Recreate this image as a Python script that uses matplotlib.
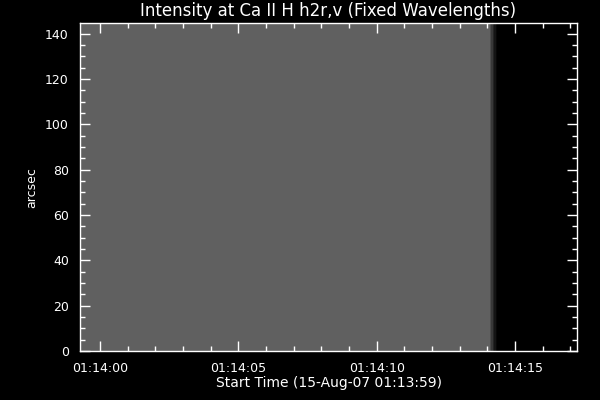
import numpy as np
import matplotlib
matplotlib.use("Agg")
import matplotlib.pyplot as plt

# data (time in seconds from 01:14:00, position in arcsec)
time_edges = [-0.72, 14.10, 14.15, 14.20, 14.25, 14.30, 14.35]
pos_edges = [0.0, 144.5]
intensity = [[0.376, 0.30, 0.22, 0.14, 0.08, 0.03]]
x_ticks = [0, 5, 10, 15]
x_labels = ["01:14:00", "01:14:05", "01:14:10", "01:14:15"]
xlim = (-0.72, 17.24)
ylim = (0, 144.5)

plt.rcParams['font.family'] = ['DejaVu Sans']

fig = plt.figure(figsize=(6, 4), dpi=100, facecolor="black")
ax = fig.add_axes([80 / 600, 49 / 400, 497 / 600, 327.7 / 400])
ax.set_facecolor("black")

ax.pcolormesh(time_edges, pos_edges, np.array(intensity), cmap="gray", vmin=0, vmax=1,
              shading="flat")

ax.set_xlim(*xlim)
ax.set_ylim(*ylim)
ax.set_xticks(x_ticks)
ax.set_xticklabels(x_labels)
ax.set_xticks(np.arange(0, 18, 1), minor=True)
ax.set_yticks(np.arange(0, 141, 20))
ax.set_yticks(np.arange(0, 145, 5), minor=True)

for s in ax.spines.values():
    s.set_color("white")
    s.set_linewidth(1)
ax.tick_params(which="both", direction="in", colors="white", top=True, right=True,
               width=1, labelsize=9)
ax.tick_params(which="major", length=7, pad=8)
ax.tick_params(which="minor", length=3.5)

ax.set_title("Intensity at Ca II H h2r,v (Fixed Wavelengths)", color="white", fontsize=12, pad=5)
ax.set_xlabel("Start Time (15-Aug-07 01:13:59)", color="white", fontsize=10, labelpad=1)
ax.set_ylabel("arcsec", color="white", fontsize=9, labelpad=5)

fig.savefig("out.png", dpi=100, facecolor="black")
